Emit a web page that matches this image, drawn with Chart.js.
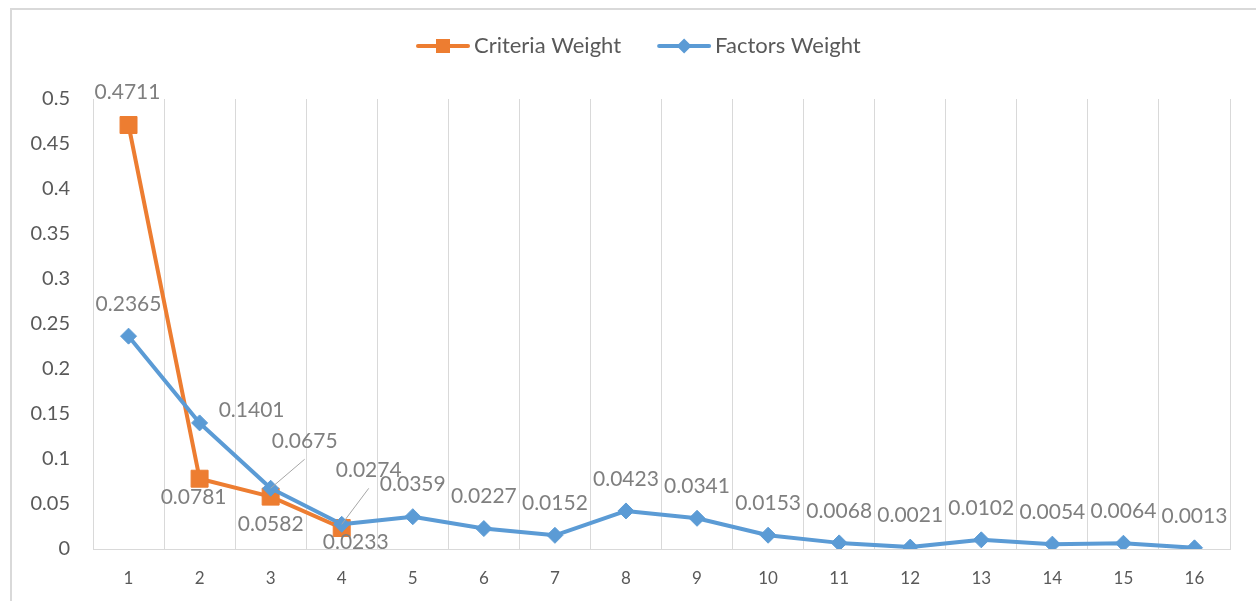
<!DOCTYPE html>
<html>
<head>
<meta charset="utf-8">
<script src="https://cdn.jsdelivr.net/npm/chart.js@4.4.1/dist/chart.umd.min.js"></script>
<style>
  html, body { margin: 0; padding: 0; background: #fff; overflow: hidden; }
  #wrap { position: relative; width: 1256px; height: 601px; }
  #frame { position: absolute; left: 10px; top: 8px; width: 1400px; height: 800px;
           border: 2px solid #d9d9d9; box-sizing: border-box; }
  #c { position: absolute; left: 0; top: 0; }
</style>
</head>
<body>
<div id="wrap">
  <div id="frame"></div>
  <canvas id="c" width="1256" height="601"></canvas>
</div>
<script>
// Categories and weights
const categories = ['1', '2', '3', '4', '5', '6', '7', '8', '9', '10', '11', '12', '13', '14', '15', '16'];
const criteriaWeight = [0.4711, 0.0781, 0.0582, 0.0233, null, null, null, null, null, null, null, null, null, null, null, null];
const factorsWeight = [0.2365, 0.1401, 0.0675, 0.0274, 0.0359, 0.0227, 0.0152, 0.0423, 0.0341, 0.0153, 0.0068, 0.0021, 0.0102, 0.0054, 0.0064, 0.0013];
const yTickLabels = ['0', '0.05', '0.1', '0.15', '0.2', '0.25', '0.3', '0.35', '0.4', '0.45', '0.5'];

const FONT = 'Lato, "Liberation Sans", sans-serif';
const ORANGE = '#ED7D31';
const BLUE = '#5B9BD5';

// Label placement relative to each point: [dx, dy, leaderLine]
const criteriaLabelPos = [[-1, -33], [-6, 19], [0, 28], [14, 14]];
const factorsLabelPos = [[0, -32], [52, -13], [34, -47, true], [27, -54, true], [0, -32]];

const valueLabels = {
  id: 'valueLabels',
  afterDatasetsDraw(chart) {
    const ctx = chart.ctx;
    ctx.save();
    ctx.font = '21px ' + FONT;
    ctx.fillStyle = '#7f7f7f';
    ctx.textAlign = 'center';
    ctx.textBaseline = 'middle';
    chart.data.datasets.forEach((ds, di) => {
      const meta = chart.getDatasetMeta(di);
      const pos = ds.labelPos || [];
      ds.data.forEach((v, i) => {
        if (v === null || v === undefined) return;
        const el = meta.data[i];
        const p = pos[i] || [0, -32];
        const tx = el.x + p[0], ty = el.y + p[1];
        if (p[2]) {
          ctx.strokeStyle = '#a6a6a6';
          ctx.lineWidth = 1;
          ctx.beginPath();
          ctx.moveTo(tx, ty + 18);
          ctx.lineTo(el.x, el.y);
          ctx.stroke();
        }
        ctx.fillText(v.toFixed(4), tx, ty);
      });
    });
    ctx.restore();
  }
};

const lineLegend = {
  id: 'lineLegend',
  afterDraw(chart) {
    const ctx = chart.ctx;
    ctx.save();
    ctx.font = '22px ' + FONT;
    ctx.textBaseline = 'middle';
    ctx.textAlign = 'left';
    const y = 46;
    let x = 416;
    chart.data.datasets.forEach((ds) => {
      ctx.strokeStyle = ds.borderColor;
      ctx.lineWidth = 4;
      ctx.lineCap = 'round';
      ctx.beginPath();
      ctx.moveTo(x + 2, y);
      ctx.lineTo(x + 52, y);
      ctx.stroke();
      ctx.fillStyle = ds.borderColor;
      const cx = x + 27;
      if (ds.pointStyle === 'rect') {
        ctx.fillRect(cx - 7, y - 7, 14, 14);
      } else {
        ctx.beginPath();
        ctx.moveTo(cx - 7.5, y);
        ctx.lineTo(cx, y - 7.5);
        ctx.lineTo(cx + 7.5, y);
        ctx.lineTo(cx, y + 7.5);
        ctx.closePath();
        ctx.fill();
      }
      ctx.fillStyle = '#595959';
      ctx.fillText(ds.label, x + 58, y);
      x += 58 + ctx.measureText(ds.label).width + 36;
    });
    ctx.restore();
  }
};

new Chart(document.getElementById('c'), {
  type: 'line',
  data: {
    labels: categories,
    datasets: [
      {
        label: 'Criteria Weight',
        data: criteriaWeight,
        labelPos: criteriaLabelPos,
        borderColor: ORANGE,
        backgroundColor: ORANGE,
        borderWidth: 4,
        pointStyle: 'rect',
        pointRadius: 12,
        pointBorderWidth: 1,
        pointBackgroundColor: ORANGE,
        pointBorderColor: ORANGE,
        spanGaps: false,
        order: 1
      },
      {
        label: 'Factors Weight',
        data: factorsWeight,
        labelPos: factorsLabelPos,
        borderColor: BLUE,
        backgroundColor: BLUE,
        borderWidth: 4,
        pointStyle: 'rectRot',
        pointRadius: 8,
        pointBorderWidth: 1,
        pointBackgroundColor: BLUE,
        pointBorderColor: BLUE,
        order: 0
      }
    ]
  },
  options: {
    responsive: false,
    animation: false,
    layout: { padding: { top: 99, right: 26, left: 0, bottom: 0 } },
    plugins: {
      legend: { display: false },
      tooltip: { enabled: false }
    },
    elements: { line: { tension: 0, borderJoinStyle: 'round', borderCapStyle: 'round' } },
    scales: {
      x: {
        offset: true,
        grid: { display: true, offset: true, color: '#d9d9d9', lineWidth: 1, drawTicks: false },
        border: { display: true, color: '#d9d9d9', width: 1 },
        ticks: { color: '#595959', font: { family: FONT, size: 17 }, padding: 19, maxRotation: 0 },
        afterFit(scale) { scale.height = 52; }
      },
      y: {
        min: 0,
        max: 0.5,
        ticks: {
          stepSize: 0.05,
          color: '#595959',
          font: { family: FONT, size: 20 },
          padding: 23,
          callback: (v, i) => yTickLabels[i]
        },
        grid: { display: false, drawTicks: false },
        border: { display: false },
        afterFit(scale) { scale.width = 93; }
      }
    }
  },
  plugins: [valueLabels, lineLegend]
});
</script>
</body>
</html>
